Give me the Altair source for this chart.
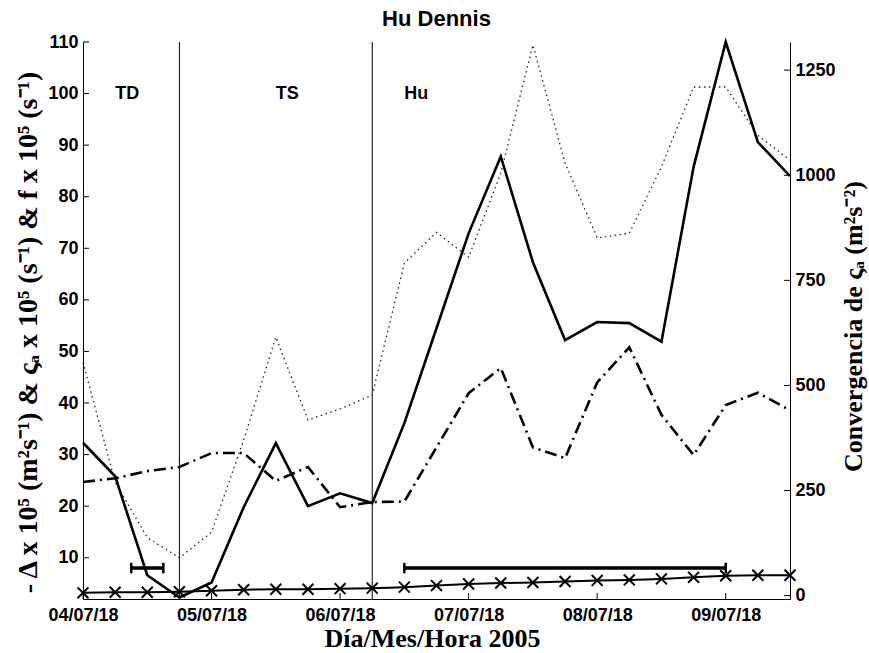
import altair as alt
import pandas as pd

# 6-hourly analysis times, 04/07 18 UTC to 10/07 06 UTC
times = list(pd.date_range("2005-07-04 18:00", periods=23, freq="6h").strftime("%Y-%m-%dT%H:%M:%SZ"))

# -Delta x 1e5 (m2 s-1)
delta = [32.3, 25.8, 6.6, 2.3, 5.2, 19.8, 32.2, 20.0, 22.5, 20.6, 36.1, 54.5,
         72.9, 87.8, 67.3, 52.2, 55.7, 55.5, 51.9, 85.8, 110.0, 90.6, 84.0]
# absolute vorticity x 1e5 (s-1)
zeta = [24.7, 25.4, 26.8, 27.6, 30.3, 30.3, 24.9, 27.6, 19.8, 20.8, 20.9, 31.4,
        41.9, 46.8, 31.4, 29.3, 44.0, 50.8, 37.7, 29.9, 39.6, 42.0, 38.6]
# Coriolis parameter x 1e5 (s-1)
coriolis = [3.2, 3.3, 3.3, 3.4, 3.6, 3.8, 3.9, 3.9, 4.0, 4.1, 4.3, 4.6,
            4.9, 5.1, 5.2, 5.4, 5.6, 5.7, 5.9, 6.2, 6.5, 6.6, 6.6]
# convergence of absolute vorticity (m2 s-2), right axis
conv = [555, 270, 138, 90, 151, 370, 615, 418, 444, 477, 791, 864,
        805, 1005, 1310, 1029, 851, 862, 1020, 1210, 1210, 1095, 1036]

chart_title = ["Hu Dennis"]
tick_times = times[::4]
stage_changes = [times[3], times[9]]
stage_names = ["TD", "TS", "Hu"]
stage_name_times = [times[1], times[6], times[10]]
stage_name_level = [100, 100, 100]
period_start = ["2005-07-05T03:00:00Z", "2005-07-07T06:00:00Z"]
period_end = ["2005-07-05T09:00:00Z", "2005-07-09T18:00:00Z"]
period_level = [8, 8]
left_ticks = list(range(10, 111, 10))
right_ticks = [0, 250, 500, 750, 1000, 1250]

W, H = 707, 557
SANS = "Liberation Sans"
SERIF = "Liberation Serif"

x_enc = alt.X(
    "t:T",
    scale=alt.Scale(type="utc",
                    domain=[alt.DateTime(year=2005, month=7, date=4, hours=18, utc=True),
                            alt.DateTime(year=2005, month=7, date=10, hours=6, utc=True)]),
    axis=alt.Axis(
        values=[alt.DateTime(year=2005, month=7, date=d, hours=18, utc=True) for d in range(4, 10)],
        labelExpr="utcFormat(datum.value, '%d/%m/%H')", labelFlush=False, labelOverlap=False,
        ticks=False, grid=False, labelPadding=7,
        title="Día/Mes/Hora 2005", titleFont=SERIF, titleFontSize=26, titleFontWeight="bold",
        titleX=349, titleY=47, titleBaseline="alphabetic", titleAlign="center",
    ),
)

y_left = alt.Y(
    "v:Q",
    scale=alt.Scale(domain=[2, 110], nice=False, zero=False),
    axis=alt.Axis(
        values=left_ticks, ticks=False, grid=False, labelPadding=5, format="d",
        title="- Δ x 10⁵ (m²s⁻¹) & ςₐ x 10⁵ (s⁻¹) & f x 10⁵ (s⁻¹)",
        titleFont=SERIF, titleFontSize=28, titleFontWeight="bold",
        titleAngle=270, titleX=-55, titleY=290, titleBaseline="middle", titleAlign="center",
    ),
)

y_right = alt.Y(
    "c:Q",
    scale=alt.Scale(domain=[-8, 1317], nice=False, zero=False),
    axis=alt.Axis(
        orient="right", values=right_ticks, ticks=False, grid=False, labelPadding=5, format="d",
        title="Convergencia de ςₐ (m²s⁻²)",
        titleFont=SERIF, titleFontSize=26, titleFontWeight="bold",
        titleAngle=270, titleX=63, titleY=284, titleBaseline="middle", titleAlign="center",
    ),
)

series = pd.DataFrame({"t": times, "delta": delta, "zeta": zeta, "f": coriolis, "c": conv})

delta_line = alt.Chart(series).transform_calculate(v="datum.delta").mark_line(
    color="black", strokeWidth=2.6).encode(x=x_enc, y=y_left)
zeta_line = alt.Chart(series).transform_calculate(v="datum.zeta").mark_line(
    color="black", strokeWidth=2.6, strokeDash=[12, 5, 2, 5]).encode(x=x_enc, y=y_left)
f_line = alt.Chart(series).transform_calculate(v="datum.f").mark_line(
    color="black", strokeWidth=2).encode(x=x_enc, y=y_left)
f_pts = alt.Chart(series).transform_calculate(v="datum.f").mark_point(
    shape="M-1,-1L1,1M-1,1L1,-1", size=120, filled=False, color="black",
    strokeWidth=2, opacity=1).encode(x=x_enc, y=y_left)

stage_rules = alt.Chart(pd.DataFrame({"t": stage_changes})).mark_rule(
    color="black", strokeWidth=1).encode(x=x_enc)

periods = pd.DataFrame({"t": period_start, "t2": period_end, "v": period_level})
period_bars = alt.Chart(periods).mark_rule(color="black", strokeWidth=3.5).encode(
    x=x_enc, x2="t2:T", y=y_left)
cap_df = pd.DataFrame({"t": period_start + period_end, "v": period_level + period_level})
period_caps = alt.Chart(cap_df).mark_point(
    shape="M0,-1L0,1", size=110, filled=False, color="black", strokeWidth=2.5,
    opacity=1).encode(x=x_enc, y=y_left)

stage_text = alt.Chart(pd.DataFrame({"t": stage_name_times, "v": stage_name_level,
                                     "name": stage_names})).mark_text(
    align="left", baseline="middle", font=SANS, fontSize=18, fontWeight="bold",
    color="black").encode(x=x_enc, y=y_left, text="name:N")

# chart heading, centred over the plot area
heading = alt.Chart(pd.DataFrame({"label": chart_title})).mark_text(
    align="center", baseline="alphabetic", font=SANS, fontSize=22, fontWeight="bold",
    color="black").encode(text="label:N", x=alt.value(W / 2), y=alt.value(-16))

# inward tick marks
lt = alt.Chart(pd.DataFrame({"v": left_ticks})).mark_rule(color="black", strokeWidth=1).encode(
    y=y_left, x=alt.value(0), x2=alt.value(6))
xt = alt.Chart(pd.DataFrame({"t": tick_times})).mark_rule(color="black", strokeWidth=1).encode(
    x=x_enc, y=alt.value(H), y2=alt.value(H - 6))
rt = alt.Chart(pd.DataFrame({"c": right_ticks})).mark_rule(color="black", strokeWidth=1).encode(
    y=y_right, x=alt.value(W), x2=alt.value(W - 6))

conv_line = alt.Chart(series).mark_line(
    color="#222222", strokeWidth=1.3, strokeDash=[1.5, 3.5]).encode(x=x_enc, y=y_right)

left_layer = alt.layer(stage_rules, period_bars, period_caps, zeta_line, delta_line,
                       f_line, f_pts, stage_text, lt, xt, heading)
right_layer = alt.layer(conv_line, rt)

chart = alt.layer(left_layer, right_layer).resolve_scale(y="independent").properties(
    width=W, height=H,
    background="white",
    autosize=alt.AutoSizeParams(type="none"),
    padding={"left": 83, "top": 42, "right": 79, "bottom": 54},
).configure_view(stroke=None).configure_axis(
    domainColor="black", domainWidth=1, labelFont=SANS, labelFontSize=18,
    labelFontWeight="bold", labelColor="black", titleColor="black",
)

chart.save("out.html", embed_options={"renderer": "svg", "actions": False})
